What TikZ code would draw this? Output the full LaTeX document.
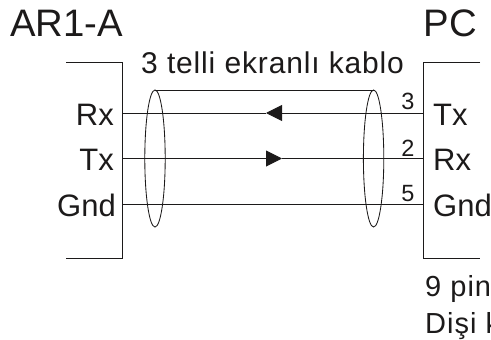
\documentclass[tikz,border=0pt]{standalone}
\usepackage{fontspec}
\setmainfont{Liberation Sans}
\newfontfamily\spacedfont[LetterSpace=2.8]{Liberation Sans}
\newfontfamily\notefont[LetterSpace=3.5]{Liberation Sans}
\usetikzlibrary{arrows.meta}
\definecolor{ink}{HTML}{1C1A1A}
\tikzset{
  title/.style={inner sep=0pt,anchor=base west,text=ink,font=\fontsize{38.3}{40}\selectfont},
  cabletext/.style={inner sep=0pt,anchor=base west,text=ink,font=\fontsize{30}{32}\spacedfont},
  pinleft/.style={inner sep=0pt,anchor=base east,text=ink,font=\fontsize{31}{32}\selectfont},
  pinright/.style={inner sep=0pt,anchor=base west,text=ink,font=\fontsize{31}{32}\selectfont},
  pinno/.style={inner sep=0pt,anchor=base,text=ink,font=\fontsize{23.5}{25}\selectfont},
  note/.style={inner sep=0pt,anchor=base west,text=ink,font=\fontsize{29}{31}\notefont},
  wire/.style={draw=ink,line width=1pt},
  shield/.style={draw=ink,line width=0.85pt},
  flow/.style={wire,-{Triangle[length=16pt,width=16pt]},shorten >=0pt}
}
\begin{document}
\begin{tikzpicture}[x=1pt,y=-1pt]
\useasboundingbox (0,0) rectangle (491,340);
\clip (0,0) rectangle (491,340);
% titles
\node[title] (ar) at (10,36.7) {AR1-A};
\node[title] (pc) at (423.5,36.7) {PC};
\node[cabletext] (cable) at (141,73) {3 telli ekranlı kablo};
% pin labels
\node[pinleft] (lrx) at (114,125) {Rx};
\node[pinleft] (ltx) at (114,170) {Tx};
\node[pinleft] (lgnd) at (116,216.7) {Gnd};
\node[pinright] (rtx) at (433,125) {Tx};
\node[pinright] (rrx) at (433,170) {Rx};
\node[pinright] (rgnd) at (433,216.7) {Gnd};
\node[pinno] (n3) at (408,110) {3};
\node[pinno] (n2) at (408,156) {2};
\node[pinno] (n5) at (408,201.7) {5};
\node[note] (pin9) at (425,296.7) {9 pin};
\node[note] (disi) at (425,333) {Dişi k};
% connector outlines
\coordinate (ltop) at (66,62);
\coordinate (lcorner) at (122.3,62);
\coordinate (lbcorner) at (122.3,258);
\coordinate (lbot) at (66,258);
\coordinate (rtop) at (480,62);
\coordinate (rcorner) at (423.3,62);
\coordinate (rbcorner) at (423.3,258);
\coordinate (rbot) at (480,258);
\draw[wire] (ltop) -- (lcorner) -- (lbcorner) -- (lbot);
\draw[wire] (rtop) -- (rcorner) -- (rbcorner) -- (rbot);
% wires
\coordinate (a1) at (122.3,113);
\coordinate (b1) at (423.3,113);
\coordinate (m1) at (266,113);
\coordinate (a2) at (122.3,158.5);
\coordinate (b2) at (423.3,158.5);
\coordinate (m2) at (282,158.5);
\coordinate (a3) at (122.3,204);
\coordinate (b3) at (423.3,204);
\draw[flow] (b1) -- (m1);
\draw[wire] (m1) -- (a1);
\draw[flow] (a2) -- (m2);
\draw[wire] (m2) -- (b2);
\draw[wire] (a3) -- (b3);
% shield
\coordinate (s1) at (155,90);
\coordinate (s2) at (375,90);
\draw[wire] (s1) -- (s2);
\draw[shield] (155,158.5) ellipse [x radius=10.2,y radius=68.5];
\draw[shield] (373.6,158.5) ellipse [x radius=10.2,y radius=68.5];
\end{tikzpicture}
\end{document}
